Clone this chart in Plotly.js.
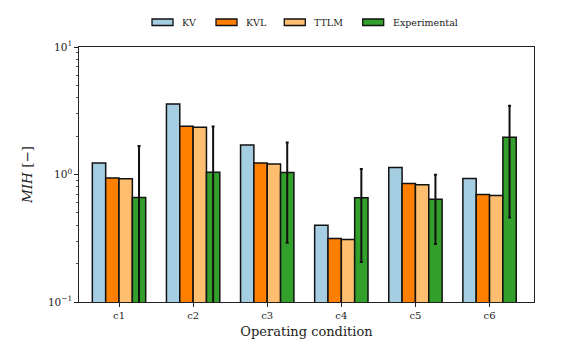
<!DOCTYPE html>
<html><head><meta charset="utf-8">
<script src="https://cdn.plot.ly/plotly-3.0.1.min.js"></script>
<style>html,body{margin:0;padding:0;background:#fff}#chart{width:568px;height:351px}</style>
</head><body><div id="chart"></div>
<script>
const categories = ['c1','c2','c3','c4','c5','c6'];
const seriesNames = ['KV','KVL','TTLM','Experimental'];
const kv   = [1.23, 3.58, 1.70, 0.40, 1.135, 0.93];
const kvl  = [0.94, 2.39, 1.23, 0.315, 0.85, 0.697];
const ttlm = [0.925, 2.35, 1.21, 0.309, 0.83, 0.684];
const expt = [0.66, 1.04, 1.037, 0.656, 0.64, 1.96];
const exptErr = [1.015, 1.34, 0.745, 0.45, 0.355, 1.5];
const colors = ['#a6cee3','#ff7f00','#fdbf6f','#33a02c'];
const yTickVals = [0.1, 1, 10];
const yTickText = ['10<sup>−1</sup>','10<sup>0</sup>','10<sup>1</sup>'];

const values = [kv, kvl, ttlm, expt];
const font = 'DejaVu Serif, serif';
const traces = values.map((v,i)=>{
  const t = {type:'bar', x:categories, y:v, name:seriesNames[i],
    marker:{color:colors[i], line:{color:'#111', width:1.5}}, showlegend:false};
  if(i===3){ t.error_y={type:'data', array:exptErr, visible:true, color:'#111', thickness:2, width:1.5}; }
  return t;
});

// plot area in px
const L=79, R=534, T=47, B=302;
const px2x = p => (p-L)/(R-L);
const py2y = p => (B-p)/(B-T);
const swX = [152, 216, 284.3, 362.7];
const shapes = [], annotations = [];
seriesNames.forEach((n,i)=>{
  shapes.push({type:'rect', xref:'paper', yref:'paper', x0:px2x(swX[i]), x1:px2x(swX[i]+21), y0:py2y(25.5), y1:py2y(19),
    fillcolor:colors[i], line:{color:'#111', width:1.3}});
  annotations.push({xref:'paper', yref:'paper', x:px2x(swX[i]+28), y:py2y(22.5), xanchor:'left', yanchor:'middle',
    text:n, showarrow:false, font:{family:font, size:9.5, color:'#222'}});
});

const minorVals = [];
[0.1,1].forEach(d=>{for(let k=2;k<=9;k++) minorVals.push(d*k);});

const layout = {
  width:568, height:351,
  margin:{l:L, r:568-R, t:T, b:351-B},
  paper_bgcolor:'#fff', plot_bgcolor:'#fff',
  barmode:'group', bargap:0.28, bargroupgap:0,
  font:{family:font, color:'#222'},
  xaxis:{type:'category', range:[-0.54, 5.6], showline:true, mirror:true, linecolor:'#222', linewidth:1.3,
    ticks:'outside', ticklen:3.5, tickwidth:1, tickcolor:'#222', tickfont:{family:font, size:10, color:'#222'},
    title:{text:'Operating condition', font:{family:font, size:13, color:'#222'}, standoff:7}, showgrid:false, zeroline:false},
  yaxis:{type:'log', range:[-1,1], showline:true, mirror:true, linecolor:'#222', linewidth:1.3,
    tickmode:'array', tickvals:yTickVals, ticktext:yTickText, ticks:'outside', ticklen:3.5, tickwidth:1, tickcolor:'#222',
    tickfont:{family:font, size:10.5, color:'#222'},
    minor:{tickmode:'array', tickvals:minorVals, ticks:'outside', ticklen:2, tickwidth:0.8, tickcolor:'#222', showgrid:false},
    title:{text:'<i>MIH</i> [−]', font:{family:font, size:13.5, color:'#222'}, standoff:12}, showgrid:false, zeroline:false},
  shapes:shapes, annotations:annotations, showlegend:false
};
Plotly.newPlot('chart', traces, layout, {displayModeBar:false, staticPlot:true});
</script></body></html>
